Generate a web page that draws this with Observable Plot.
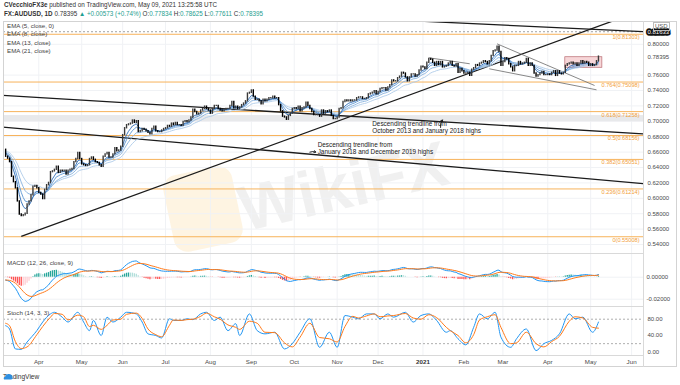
<!DOCTYPE html>
<html><head><meta charset="utf-8">
<script src="https://cdn.jsdelivr.net/npm/d3@7"></script>
<script src="https://cdn.jsdelivr.net/npm/@observablehq/plot@0.6"></script>
<style>
body{margin:0;background:#fff;font-family:"Liberation Sans",Arial,sans-serif;}
#wrap{position:relative;width:680px;height:385px;overflow:hidden;background:#fff;}
.abs{position:absolute;white-space:nowrap;}
#wrap svg{position:absolute;left:0;}
.hd{font-size:6.3px;color:#333;line-height:8px;}
.tl{color:#1e9e8f;}
</style></head><body><div id="wrap">
<div class="abs" style="left:168px;top:170px;width:70px;height:78px;border-radius:14px;background:rgba(250,200,110,0.20);transform:rotate(-12deg)"></div>
<div class="abs" style="left:248px;top:172px;font:bold 64px 'Liberation Sans',Arial,sans-serif;color:rgba(150,150,150,0.14);transform:rotate(-13deg);transform-origin:left bottom;">WikiFX</div>
</div>
<script>
// ---------------- DATA ----------------
const startDate = "2020-03-09";           // first daily bar shown (weekdays only)
const warmupCloses = [0.6680,0.6720,0.6740,0.6720,0.6720,0.6700,0.6690,0.6650,0.6620,0.6630,
  0.6600,0.6600,0.6550,0.6530,0.6510,0.6560,0.6600,0.6610,0.6610,0.6630];
const closes = [
0.6540,0.6515,0.6470,0.6280,0.6210,
0.6130,0.5960,0.5790,0.5770,0.5780,
0.5800,0.5920,0.5960,0.6040,0.6150,
0.6160,0.6130,0.6070,0.6050,0.5990,
0.6110,0.6170,0.6200,0.6340,0.6350,
0.6370,0.6410,0.6330,0.6360,0.6350,
0.6360,0.6310,0.6360,0.6370,0.6380,
0.6470,0.6510,0.6590,0.6510,0.6440,
0.6430,0.6420,0.6430,0.6510,0.6530,
0.6500,0.6470,0.6460,0.6430,0.6410,
0.6540,0.6570,0.6590,0.6530,0.6530,
0.6570,0.6650,0.6610,0.6620,0.6670,
0.6820,0.6910,0.6950,0.6960,0.6970,
0.7010,0.6980,0.7000,0.6860,0.6870,
0.6900,0.6890,0.6870,0.6850,0.6830,
0.6900,0.6930,0.6870,0.6860,0.6860,
0.6880,0.6900,0.6910,0.6940,0.6930,
0.6970,0.6950,0.6980,0.6950,0.6950,
0.6940,0.6990,0.7000,0.6990,0.7010,
0.7050,0.7150,0.7120,0.7090,0.7100,
0.7140,0.7160,0.7190,0.7160,0.7140,
0.7100,0.7160,0.7200,0.7200,0.7160,
0.7140,0.7130,0.7150,0.7160,0.7160,
0.7200,0.7250,0.7170,0.7190,0.7160,
0.7180,0.7210,0.7230,0.7260,0.7360,
0.7370,0.7400,0.7320,0.7280,0.7280,
0.7260,0.7220,0.7280,0.7260,0.7280,
0.7300,0.7300,0.7320,0.7300,0.7300,
0.7210,0.7130,0.7060,0.7050,0.7020,
0.7070,0.7100,0.7160,0.7170,0.7160,
0.7190,0.7130,0.7170,0.7180,0.7240,
0.7200,0.7160,0.7120,0.7080,0.7080,
0.7080,0.7060,0.7140,0.7100,0.7130,
0.7120,0.7140,0.7070,0.7030,0.7030,
0.7050,0.7160,0.7170,0.7250,0.7270,
0.7260,0.7270,0.7260,0.7270,0.7270,
0.7300,0.7310,0.7310,0.7290,0.7290,
0.7300,0.7350,0.7360,0.7370,0.7390,
0.7350,0.7380,0.7420,0.7430,0.7430,
0.7400,0.7440,0.7470,0.7530,0.7520,
0.7520,0.7560,0.7580,0.7630,0.7620,
0.7570,0.7520,0.7570,0.7610,0.7610,
0.7580,0.7600,0.7660,0.7710,0.7700,
0.7680,0.7760,0.7810,0.7800,0.7760,
0.7720,0.7770,0.7730,0.7770,0.7700,
0.7710,0.7720,0.7750,0.7770,0.7720,
0.7710,0.7740,0.7630,0.7680,0.7650,
0.7620,0.7620,0.7630,0.7590,0.7670,
0.7690,0.7730,0.7720,0.7750,0.7760,
0.7780,0.7770,0.7740,0.7780,0.7850,
0.7910,0.7920,0.7970,0.7900,0.7720,
0.7770,0.7820,0.7810,0.7740,0.7700,
0.7650,0.7720,0.7720,0.7770,0.7740,
0.7750,0.7760,0.7810,0.7720,0.7750,
0.7720,0.7620,0.7580,0.7600,0.7620,
0.7640,0.7600,0.7600,0.7610,0.7600,
0.7630,0.7650,0.7590,0.7650,0.7620,
0.7610,0.7630,0.7720,0.7740,0.7750,
0.7760,0.7740,0.7750,0.7720,0.7750,
0.7780,0.7750,0.7770,0.7760,0.7720,
0.7740,0.7720,0.7730,0.7780,0.78395];

// Stochastic (14,3,3): bar index, %K (blue), %D (orange)
const stochBar = [0,2,5,8,11,16,19,23,25,29,32,37,40,43,45,49,52,55,59,62,67,70,73,77,80,84,86,90,93,96,100,103,107,110,114,118,120,125,129,133,138,143,147,151,156,161,166,170,174,178,181,185,189,192,196,199,205,209,213,217,221,226,228,232,236,240,243,247,251,254,259,262,267,272,276,280,284,289,292,296,301,304];
const stochK = [64,56,7,6,24,52,73,93,97,85,73,97,73,52,77,40,85,73,85,97,93,73,44,40,34,81,77,77,81,79,93,97,77,85,52,69,40,93,52,44,48,7,20,48,81,11,48,11,89,85,81,93,93,81,93,85,97,73,89,93,77,48,52,32,17,60,93,81,97,36,11,32,56,3,20,28,44,93,81,85,48,73];
const stochD = [70,64,25,8,12,42,62,85,94,92,78,90,86,62,65,55,65,78,80,92,95,82,56,42,37,65,78,77,79,80,87,95,86,80,66,60,55,75,70,48,47,22,12,36,70,35,32,24,62,87,83,88,93,86,88,89,94,83,80,91,84,60,52,40,22,42,78,86,91,60,20,22,48,20,12,25,38,75,86,83,60,58];

const monthTickDates  = ["2020-04-01","2020-05-01","2020-06-01","2020-07-01","2020-08-03","2020-09-01","2020-10-01","2020-11-02","2020-12-01","2021-01-01","2021-02-01","2021-03-01","2021-04-01","2021-05-03","2021-06-01"];
const monthTickLabels = ["Apr","May","Jun","Jul","Aug","Sep","Oct","Nov","Dec","2021","Feb","Mar","Apr","May","Jun"];

const priceTicks = [0.54,0.56,0.58,0.60,0.62,0.64,0.66,0.68,0.70,0.72,0.74,0.76,0.80];
const macdTicks  = [0, -0.02];
const stochTicks = [80, 40, 0];
const stochBands = [80, 20];

const fibLevels = [0, 0.236, 0.382, 0.5, 0.618, 0.764, 1];
const fibPrices = [0.55008, 0.61214, 0.65051, 0.68156, 0.71258, 0.75098, 0.81303];

const zoneLow = 0.6995, zoneHigh = 0.7075;          // grey support band
const hLinePrice = 0.81633;                          // dashed horizontal line / axis tag
const lastPrice = 0.78395;

// black trendlines: [date1, price1, date2, price2]
const trendStart = ["2020-03-19","2020-03-02","2020-03-02","2020-10-06"];
const trendP1    = [0.5506, 0.7341, 0.6932, 0.8374];
const trendEnd   = ["2021-06-04","2021-06-30","2021-06-30","2021-06-30"];
const trendP2    = [0.8419, 0.6814, 0.6158, 0.81458];
// thin grey wedge lines
const wedgeStart = ["2021-02-24","2021-02-18","2021-01-06"];
const wedgeP1    = [0.8006, 0.7682, 0.7825];
const wedgeEnd   = ["2021-05-05","2021-05-06","2021-02-04"];
const wedgeP2    = [0.7465, 0.7409, 0.7747];
// consolidation box
const boxDates = ["2021-04-14","2021-05-11"];
const boxPrices = [0.7695, 0.7832];
// annotations
const noteDates  = ["2020-11-26","2020-10-19"];
const notePrices = [0.6923, 0.6653];
const noteTexts  = ["Descending trendline from\nOctober 2013 and January 2018 highs",
                    "Descending trendline from\nJanuary 2018 and December 2019 highs"];
const arrowFrom = [["2021-01-14",0.6920],["2020-10-13",0.6600]];
const arrowTo   = [["2021-01-15",0.7017],["2020-10-16",0.6600]];

// ---------------- HELPERS ----------------
function idx(s){
  const p = t => { const [y,m,d] = t.split("-").map(Number); return Date.UTC(y,m-1,d); };
  const days = Math.round((p(s) - p(startDate)) / 864e5);
  const w = Math.floor(days/7), r = days - w*7;
  return w*5 + Math.min(r,5);
}
function ema(a, n){ const k = 2/(n+1); const o = [a[0]]; for(let i=1;i<a.length;i++) o.push(a[i]*k + o[i-1]*(1-k)); return o; }

const all = warmupCloses.concat(closes), W = warmupCloses.length;
const emaSets = [5,8,13,21].map(n => ema(all,n).slice(W));
const e12 = ema(all,12), e26 = ema(all,26);
const macdAll = all.map((c,i)=>e12[i]-e26[i]);
const sigAll = ema(macdAll, 9);
const macd = macdAll.slice(W), sig = sigAll.slice(W);
const hist = macd.map((m,i)=>m-sig[i]);
const histPrev = macdAll.map((m,i)=>m-sigAll[i]).slice(W-1);

const bars = closes.map((c,i)=>({i, open: i===0 ? warmupCloses[W-1] : closes[i-1], close:c}));
const ticks = monthTickDates.map((d,j)=>({i: idx(d), label: monthTickLabels[j]}));
const tickIdx = ticks.map(t=>t.i);
const links = (s,p1,e,p2) => s.map((d,j)=>({x1:idx(d), y1:p1[j], x2:idx(e[j]), y2:p2[j]}));
const trends = links(trendStart,trendP1,trendEnd,trendP2);
const wedges = links(wedgeStart,wedgeP1,wedgeEnd,wedgeP2);
const fib = fibLevels.map((l,j)=>({p: fibPrices[j], label: `${l}(${fibPrices[j].toFixed(5)})`}));
const notes = noteDates.map((d,j)=>({x: idx(d), y: notePrices[j], t: noteTexts[j]}));
const arrows = arrowFrom.map((f,j)=>({x1: idx(f[0]), y1: f[1], x2: idx(arrowTo[j][0]), y2: arrowTo[j][1]}));
const stoch = stochBar.map((b,j)=>({i:b, k:stochK[j], d:stochD[j]}));

// ---------------- LAYOUT ----------------
const xDomain = [-1.1, 327.1];
const FONT = "Liberation Sans, Arial, sans-serif";
const base = {width:680, marginLeft:3, marginRight:37, x:{domain:xDomain, axis:null},
  style:{background:"transparent", fontFamily:FONT, fontSize:"6px", color:"#4a4a4a", overflow:"visible"}};
const grid = "#f0f2f5";
const fmt5 = d3.format(".5f");
const wrap = document.getElementById("wrap");

const main = Plot.plot({...base, height:253, marginTop:21, marginBottom:0,
  y:{domain:[0.52831, 0.82961], axis:null},
  marks:[
    Plot.ruleX(tickIdx, {stroke:grid}),
    Plot.ruleY(priceTicks, {stroke:grid}),
    Plot.rect([{lo:zoneLow, hi:zoneHigh}], {y1:"lo", y2:"hi", fill:"#e4e5e8", fillOpacity:0.85}),
    Plot.ruleY([hLinePrice], {stroke:"#8a8a8a", strokeDasharray:"2,2", strokeWidth:0.8}),
    Plot.ruleY(fib, {y:"p", stroke:"#f7b35b", strokeWidth:1}),
    Plot.text(fib, {y:"p", text:"label", frameAnchor:"right", textAnchor:"end", lineAnchor:"top", dx:-4, dy:1, fill:"#f29d38", fontSize:5.6}),
    Plot.link(trends, {x1:"x1", y1:"y1", x2:"x2", y2:"y2", stroke:"#1b1b1b", strokeWidth:1.3, clip:true}),
    Plot.link(wedges, {x1:"x1", y1:"y1", x2:"x2", y2:"y2", stroke:"#6a6a6a", strokeWidth:0.8, clip:true}),
    Plot.rect([{a:idx(boxDates[0]), b:idx(boxDates[1]), lo:boxPrices[0], hi:boxPrices[1]}], {x1:"a", x2:"b", y1:"lo", y2:"hi", fill:"#f7d6d8", stroke:"#b86a70", strokeWidth:0.7}),
    ...[3,2,1,0].map(k => Plot.line(closes.map((_,i)=>({i, v:emaSets[k][i]})), {x:"i", y:"v", stroke:["#2b6cb8","#5a95d3","#86b1de","#aecbe9"][k], strokeWidth:0.9, clip:true})),
    Plot.ruleX(bars, {x:"i", y1:"open", y2:"close", stroke:d=>d.close>=d.open?"#3a3a3a":"#000000", strokeWidth:1.4, strokeLinecap:"square", clip:true}),
    Plot.text(notes, {x:"x", y:"y", text:"t", textAnchor:"start", lineAnchor:"middle", fontSize:6.4, lineHeight:1.05, fill:"#222"}),
    Plot.arrow(arrows, {x1:"x1", y1:"y1", x2:"x2", y2:"y2", stroke:"#111", strokeWidth:0.9, headLength:3, bend:true}),
    Plot.axisY(priceTicks, {anchor:"right", tickSize:0, tickPadding:4, tickFormat:fmt5, fontSize:6, fill:"#4a4a4a"}),
    Plot.text([lastPrice], {y:d=>d, text:d=>fmt5(d), frameAnchor:"right", textAnchor:"start", dx:4, fontSize:6, fill:"#4a4a4a"}),
    Plot.text([hLinePrice], {y:d=>d, text:d=>fmt5(d), frameAnchor:"right", textAnchor:"start", dx:4, fontSize:6, fill:"#fff", stroke:"#111", strokeWidth:3.6}),
    Plot.frame({stroke:"#d9d9d9"})
  ]});
main.style.top = "0px"; wrap.appendChild(main);

const macdPlot = Plot.plot({...base, height:53, marginTop:0, marginBottom:0,
  y:{domain:[-0.02664, 0.02155], axis:null},
  marks:[
    Plot.ruleX(tickIdx, {stroke:grid}),
    Plot.ruleY(macdTicks, {stroke:grid}),
    Plot.ruleX(hist.map((h,i)=>({i, h, c: h>=0 ? (h>histPrev[i] ? "#26a69a" : "#b2dfdb") : (h<histPrev[i] ? "#ff5252" : "#ffcdd2")})),
      {x:"i", y1:0, y2:"h", stroke:"c", strokeWidth:1.3}),
    Plot.line(macd.map((v,i)=>({i,v})), {x:"i", y:"v", stroke:"#2196f3", strokeWidth:1}),
    Plot.line(sig.map((v,i)=>({i,v})), {x:"i", y:"v", stroke:"#ff7a1a", strokeWidth:1}),
    Plot.axisY(macdTicks, {anchor:"right", tickSize:0, tickPadding:3, tickFormat:d=>fmt5(d).replace("−","-"), fontSize:6, fill:"#4a4a4a"}),
    Plot.frame({stroke:"#d9d9d9"})
  ]});
macdPlot.style.top = "253px"; wrap.appendChild(macdPlot);

const stochPlot = Plot.plot({...base, height:61, marginTop:0, marginBottom:12,
  y:{domain:[-9.1, 111.2], axis:null},
  marks:[
    Plot.ruleX(tickIdx, {stroke:grid}),
    Plot.ruleY(stochBands, {stroke:"#9a9a9a", strokeDasharray:"2,2", strokeWidth:0.8}),
    Plot.line(stoch, {x:"i", y:"k", stroke:"#2196f3", strokeWidth:1, curve:"monotone-x"}),
    Plot.line(stoch, {x:"i", y:"d", stroke:"#ff7a1a", strokeWidth:1, curve:"monotone-x"}),
    Plot.axisY(stochTicks, {anchor:"right", tickSize:0, tickPadding:4, tickFormat:d3.format(".2f"), fontSize:6, fill:"#4a4a4a"}),
    Plot.text(ticks.filter(t=>t.label!=="2021"), {x:"i", text:"label", frameAnchor:"bottom", lineAnchor:"top", dy:4, fontSize:6.2, fill:"#4a4a4a"}),
    Plot.text(ticks.filter(t=>t.label==="2021"), {x:"i", text:"label", frameAnchor:"bottom", lineAnchor:"top", dy:4, fontSize:6.2, fontWeight:"bold", fill:"#333"}),
    Plot.frame({stroke:"#d9d9d9"})
  ]});
stochPlot.style.top = "306px"; wrap.appendChild(stochPlot);

// ---------------- TEXT OVERLAYS ----------------
function addDiv(html, css, cls="abs"){ const d=document.createElement("div"); d.className=cls; d.style.cssText=css; d.innerHTML=html; wrap.appendChild(d); }
addDiv("", "left:3px;top:21px;width:674px;height:346px;border:1px solid #d3d3d3;box-sizing:border-box;");
addDiv("", "left:643px;top:21px;width:1px;height:346px;background:#d9d9d9;");
addDiv("<b>CVecchioFX3e</b> published on TradingView.com, May 09, 2021 13:25:58 UTC", "left:4px;top:1px;", "abs hd");
addDiv("<b>FX:AUDUSD, 1D</b> 0.78395 <span class='tl'>▲ +0.00573 (+0.74%)</span> O:<span class='tl'>0.77834</span> H:<span class='tl'>0.78625</span> L:<span class='tl'>0.77611</span> C:<span class='tl'>0.78395</span>", "left:4px;top:10px;", "abs hd");
addDiv("EMA (5, close, 0)<br>EMA (8, close)<br>EMA (13, close)<br>EMA (21, close)", "left:7px;top:22px;line-height:8.3px;font-size:6.2px;color:#444;");
addDiv("USD", "left:653px;top:22px;font-size:6px;color:#555;border:0.5px solid #bbb;padding:0 1px;line-height:6.5px;");
addDiv("MACD (12, 26, close, 9)", "left:7px;top:259px;font-size:6.2px;color:#444;");
addDiv("Stoch (14, 3, 3)", "left:7px;top:309px;font-size:6.2px;color:#444;");
addDiv("<svg width='10' height='7' viewBox='0 0 10 7' style='vertical-align:middle'><path d='M1 6.5 Q0 4 2.5 3.5 Q3 0.5 6 1 Q9 1 9 4 Q10 6.5 8 6.5 Z' fill='#2f8fe0'/></svg> TradingView", "left:3px;top:373px;font-size:6.6px;color:#333;");
</script></body></html>
